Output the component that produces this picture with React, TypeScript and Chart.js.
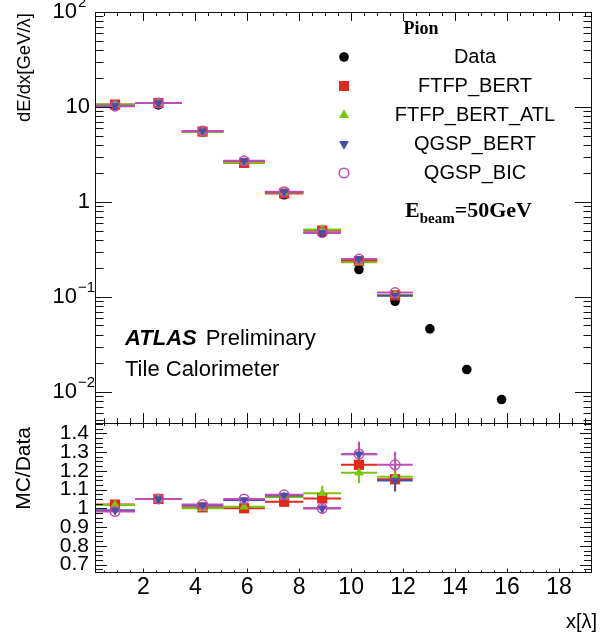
import React, { useEffect, useRef } from "react";
import { Chart, registerables } from "chart.js";
Chart.register(...registerables);

const FONT = "'Liberation Sans', Arial, Helvetica, sans-serif";
const SERIF = "'Liberation Serif', 'Times New Roman', serif";

const xMin = 0.14;
const xMax = 19.27;
const topYMin = 0.0047;
const topYMax = 100;
const ratioYMin = 0.655;
const ratioYMax = 1.455;

// bins (x in lambda)
const binLow = [0.14, 1.68, 3.48, 5.08, 6.68, 8.16, 9.61, 11.0];
const binHigh = [1.68, 3.48, 5.08, 6.68, 8.16, 9.61, 11.0, 12.37];
const binCenter = [0.91, 2.58, 4.28, 5.88, 7.42, 8.885, 10.3, 11.69];

// Data
const dataX = [0.91, 2.58, 4.28, 5.88, 7.42, 8.885, 10.3, 11.69, 13.03, 14.45, 15.79];
const dataY = [10.4, 10.5, 5.47, 2.58, 1.19, 0.475, 0.194, 0.09, 0.046, 0.0172, 0.0083];

// MC, top panel
const ftfpBertTop = [10.6, 11.0, 5.5, 2.58, 1.23, 0.5, 0.239, 0.104];
const ftfpBertAtlTop = [10.6, 11.0, 5.47, 2.6, 1.26, 0.513, 0.231, 0.105];
const qgspBertTop = [10.3, 11.0, 5.55, 2.7, 1.27, 0.475, 0.25, 0.103];
const qgspBicTop = [10.2, 11.0, 5.58, 2.71, 1.28, 0.475, 0.25, 0.111];

// MC/Data ratio
const ftfpBertRatio = [1.02, 1.05, 1.005, 1.0, 1.035, 1.053, 1.232, 1.155];
const ftfpBertAtlRatio = [1.018, 1.05, 1.0, 1.008, 1.06, 1.08, 1.19, 1.169];
const qgspBertRatio = [0.99, 1.05, 1.015, 1.045, 1.068, 1.0, 1.288, 1.148];
const qgspBicRatio = [0.983, 1.05, 1.02, 1.05, 1.072, 1.0, 1.29, 1.232];

const ftfpBertErr = [0.01, 0.01, 0.01, 0.01, 0.015, 0.03, 0.06, 0.06];
const ftfpBertAtlErr = [0.01, 0.01, 0.01, 0.01, 0.015, 0.04, 0.055, 0.06];
const qgspBertErr = [0.01, 0.01, 0.01, 0.01, 0.015, 0.03, 0.06, 0.058];
const qgspBicErr = [0.01, 0.01, 0.01, 0.01, 0.015, 0.03, 0.065, 0.07];

// ticks
const xTickValues = [2, 4, 6, 8, 10, 12, 14, 16, 18];
const ratioTickValues = [0.7, 0.8, 0.9, 1.0, 1.1, 1.2, 1.3, 1.4];
const ratioTickLabels = ["0.7", "0.8", "0.9", "1", "1.1", "1.2", "1.3", "1.4"];
const logTickExponents = [-2, -1, 0, 1, 2];

const seriesNames = ["Data", "FTFP_BERT", "FTFP_BERT_ATL", "QGSP_BERT", "QGSP_BIC"];
const RED = "#e2271d";
const GREEN = "#7ac80c";
const BLUE = "#4650a6";
const MAGENTA = "#c04db3";

function hSegments(values: number[]) {
  const pts: any[] = [];
  values.forEach((v, i) => {
    pts.push({ x: binLow[i], y: v }, { x: binHigh[i], y: v }, { x: binHigh[i], y: null });
  });
  return pts;
}
function vSegments(values: number[], errs: number[]) {
  const pts: any[] = [];
  values.forEach((v, i) => {
    pts.push({ x: binCenter[i], y: v - errs[i] }, { x: binCenter[i], y: v + errs[i] }, { x: binCenter[i], y: null });
  });
  return pts;
}
function points(values: number[], xs: number[] = binCenter) {
  return values.map((v, i) => ({ x: xs[i], y: v }));
}

function lineDs(data: any[], color: string, order: number) {
  return {
    type: "scatter" as const,
    data,
    showLine: true,
    spanGaps: false,
    borderColor: color,
    borderWidth: 2,
    pointRadius: 0,
    order,
  };
}

function markerSets(vals: number[][]) {
  return [
    {
      label: "QGSP_BIC",
      data: points(vals[3]),
      pointStyle: "circle",
      pointRadius: 4.8,
      backgroundColor: "rgba(0,0,0,0)",
      borderColor: MAGENTA,
      borderWidth: 1.5,
      order: 1,
    },
    {
      label: "QGSP_BERT",
      data: points(vals[2]),
      pointStyle: "triangle",
      pointRotation: 180,
      pointRadius: 5.5,
      backgroundColor: BLUE,
      borderColor: BLUE,
      borderWidth: 0,
      order: 2,
    },
    {
      label: "FTFP_BERT_ATL",
      data: points(vals[1]),
      pointStyle: "triangle",
      pointRadius: 5.5,
      backgroundColor: GREEN,
      borderColor: GREEN,
      borderWidth: 0,
      order: 3,
    },
    {
      label: "FTFP_BERT",
      data: points(vals[0]),
      pointStyle: "rect",
      pointRadius: 7.2,
      backgroundColor: RED,
      borderColor: RED,
      borderWidth: 0,
      order: 4,
    },
  ];
}

function drawLegendMarker(ctx: CanvasRenderingContext2D, kind: number, x: number, y: number) {
  ctx.save();
  if (kind === 0) {
    ctx.fillStyle = "#000";
    ctx.beginPath();
    ctx.arc(x, y, 4.8, 0, Math.PI * 2);
    ctx.fill();
  } else if (kind === 1) {
    ctx.fillStyle = RED;
    ctx.fillRect(x - 5, y - 5, 10, 10);
  } else if (kind === 2 || kind === 3) {
    ctx.fillStyle = kind === 2 ? GREEN : BLUE;
    const r = 5.8;
    const s = kind === 2 ? 1 : -1;
    ctx.beginPath();
    ctx.moveTo(x, y - s * r);
    ctx.lineTo(x + r * 0.866, y + s * r * 0.5);
    ctx.lineTo(x - r * 0.866, y + s * r * 0.5);
    ctx.closePath();
    ctx.fill();
  } else {
    ctx.strokeStyle = MAGENTA;
    ctx.lineWidth = 1.5;
    ctx.beginPath();
    ctx.arc(x, y, 4.8, 0, Math.PI * 2);
    ctx.stroke();
  }
  ctx.restore();
}

const topDecor = {
  id: "topDecor",
  afterDraw(chart: any) {
    const { ctx, chartArea: a } = chart;
    const xs = chart.scales.x;
    const ys = chart.scales.y;
    ctx.save();
    ctx.strokeStyle = "#111";
    ctx.lineWidth = 1;
    ctx.beginPath();
    for (let i = 0; i <= 40; i++) {
      const v = i * 0.5;
      if (v < xs.min || v > xs.max) continue;
      const px = Math.round(xs.getPixelForValue(v)) + 0.5;
      const major = i % 4 === 0;
      ctx.moveTo(px, a.bottom);
      ctx.lineTo(px, a.bottom - (major ? 10 : 5));
      ctx.moveTo(px, a.top);
      ctx.lineTo(px, a.top + (major ? 9 : 4));
    }
    for (let e = -3; e <= 2; e++) {
      for (let m = 1; m <= 9; m++) {
        const v = m * Math.pow(10, e);
        if (v < ys.min || v > ys.max) continue;
        const py = Math.round(ys.getPixelForValue(v)) + 0.5;
        const len = m === 1 ? 17 : 8.5;
        ctx.moveTo(a.left, py);
        ctx.lineTo(a.left + len, py);
        ctx.moveTo(a.right, py);
        ctx.lineTo(a.right - len, py);
      }
    }
    ctx.stroke();
    ctx.strokeRect(a.left + 0.5, a.top + 0.5, a.right - a.left - 1, a.bottom - a.top);

    // y tick labels (powers of ten)
    ctx.fillStyle = "#000";
    ctx.textBaseline = "middle";
    for (const e of logTickExponents) {
      const py = ys.getPixelForValue(Math.pow(10, e));
      ctx.font = `22px ${FONT}`;
      ctx.textAlign = "right";
      if (e === 0 || e === 1) {
        ctx.fillText(e === 0 ? "1" : "10", 90, py);
      } else {
        ctx.fillText("10", 77, py);
        ctx.font = `15px ${FONT}`;
        ctx.textAlign = "left";
        ctx.fillText(e < 0 ? "\u2212" + String(-e) : String(e), 78, py - 9);
      }
    }

    // y title
    ctx.save();
    ctx.translate(30, 13);
    ctx.rotate(-Math.PI / 2);
    ctx.font = `18.5px ${FONT}`;
    ctx.textAlign = "right";
    ctx.textBaseline = "alphabetic";
    ctx.fillText("dE/dx[GeV/\u03bb]", 0, 0);
    ctx.restore();

    // legend
    ctx.font = `bold 18px ${SERIF}`;
    ctx.textAlign = "center";
    ctx.textBaseline = "alphabetic";
    ctx.fillText("Pion", 421, 34);
    const rows = [57, 86, 115, 144, 173];
    ctx.font = `20px ${FONT}`;
    ctx.textBaseline = "middle";
    seriesNames.forEach((name, i) => {
      drawLegendMarker(ctx, i, 344, rows[i]);
      ctx.fillStyle = "#000";
      ctx.textAlign = "center";
      ctx.fillText(name, 475, rows[i]);
    });

    // E_beam
    ctx.textBaseline = "alphabetic";
    ctx.textAlign = "left";
    let x = 405;
    ctx.font = `bold 22px ${SERIF}`;
    ctx.fillText("E", x, 217);
    x += ctx.measureText("E").width;
    ctx.font = `bold 15px ${SERIF}`;
    ctx.fillText("beam", x, 223);
    x += ctx.measureText("beam").width;
    ctx.font = `bold 22px ${SERIF}`;
    ctx.fillText("=50GeV", x, 217);

    // ATLAS label
    x = 125;
    ctx.font = `italic bold 22px ${FONT}`;
    ctx.fillText("ATLAS", x, 345);
    x += ctx.measureText("ATLAS").width + 9;
    ctx.font = `22px ${FONT}`;
    ctx.fillText("Preliminary", x, 345);
    ctx.fillText("Tile Calorimeter", 125, 376);
    ctx.restore();
  },
};

const ratioDecor = {
  id: "ratioDecor",
  afterDraw(chart: any) {
    const { ctx, chartArea: a } = chart;
    const xs = chart.scales.x;
    const ys = chart.scales.y;
    ctx.save();
    ctx.strokeStyle = "#111";
    ctx.lineWidth = 1;
    ctx.beginPath();
    for (let i = 0; i <= 40; i++) {
      const v = i * 0.5;
      if (v < xs.min || v > xs.max) continue;
      const px = Math.round(xs.getPixelForValue(v)) + 0.5;
      const major = i % 4 === 0;
      ctx.moveTo(px, a.bottom);
      ctx.lineTo(px, a.bottom - (major ? 4.5 : 2.5));
      ctx.moveTo(px, a.top);
      ctx.lineTo(px, a.top + (major ? 5 : 3));
    }
    for (let i = 26; i <= 58; i++) {
      const v = i * 0.025;
      if (v < ys.min || v > ys.max) continue;
      const py = Math.round(ys.getPixelForValue(v)) + 0.5;
      const len = i % 4 === 0 ? 12 : 8;
      ctx.moveTo(a.left, py);
      ctx.lineTo(a.left + len, py);
      ctx.moveTo(a.right, py);
      ctx.lineTo(a.right - len, py);
    }
    ctx.stroke();
    ctx.strokeRect(a.left + 0.5, a.top + 0.5, a.right - a.left - 1, a.bottom - a.top - 1);

    ctx.fillStyle = "#000";
    ctx.save();
    ctx.translate(30, 427);
    ctx.rotate(-Math.PI / 2);
    ctx.font = `21px ${FONT}`;
    ctx.textAlign = "right";
    ctx.textBaseline = "alphabetic";
    ctx.fillText("MC/Data", 0, 0);
    ctx.restore();

    ctx.font = `20px ${FONT}`;
    ctx.textAlign = "right";
    ctx.textBaseline = "alphabetic";
    ctx.fillText("x[\u03bb]", 597, 628);
    ctx.restore();
  },
};

const baseOptions = {
  responsive: false,
  animation: false as const,
  devicePixelRatio: 1,
  events: [] as any[],
  plugins: { legend: { display: false }, tooltip: { enabled: false } },
};

export default function App() {
  const topRef = useRef<HTMLCanvasElement>(null);
  const botRef = useRef<HTMLCanvasElement>(null);

  useEffect(() => {
    const topVals = [ftfpBertTop, ftfpBertAtlTop, qgspBertTop, qgspBicTop];
    const topChart = new Chart(topRef.current as HTMLCanvasElement, {
      type: "scatter",
      data: {
        datasets: [
          ...markerSets(topVals),
          {
            label: "Data",
            data: points(dataY, dataX),
            pointStyle: "circle",
            pointRadius: 4.8,
            backgroundColor: "#000",
            borderColor: "#000",
            borderWidth: 0,
            order: 5,
          },
          lineDs(hSegments(qgspBicTop), MAGENTA, 6),
          lineDs(hSegments(qgspBertTop), BLUE, 7),
          lineDs(hSegments(ftfpBertAtlTop), GREEN, 8),
          lineDs(hSegments(ftfpBertTop), RED, 9),
        ] as any,
      },
      options: {
        ...baseOptions,
        layout: { padding: { left: 0, right: 10, top: 12, bottom: 214 } },
        scales: {
          x: { type: "linear", min: xMin, max: xMax, display: false },
          y: {
            type: "logarithmic",
            min: topYMin,
            max: topYMax,
            ticks: { display: false },
            grid: { display: false, drawTicks: false },
            border: { display: false },
            afterFit: (s: any) => {
              s.width = 95;
            },
          },
        },
      } as any,
      plugins: [topDecor],
    });

    const ratioChart = new Chart(botRef.current as HTMLCanvasElement, {
      type: "scatter",
      data: {
        datasets: [
          ...markerSets([ftfpBertRatio, ftfpBertAtlRatio, qgspBertRatio, qgspBicRatio]),
          lineDs(hSegments(qgspBicRatio), MAGENTA, 6),
          lineDs(vSegments(qgspBicRatio, qgspBicErr), MAGENTA, 6),
          lineDs(hSegments(qgspBertRatio), BLUE, 7),
          lineDs(vSegments(qgspBertRatio, qgspBertErr), BLUE, 7),
          lineDs(hSegments(ftfpBertAtlRatio), GREEN, 8),
          lineDs(vSegments(ftfpBertAtlRatio, ftfpBertAtlErr), GREEN, 8),
          lineDs(hSegments(ftfpBertRatio), RED, 9),
          lineDs(vSegments(ftfpBertRatio, ftfpBertErr), RED, 9),
        ] as any,
      },
      options: {
        ...baseOptions,
        layout: { padding: { left: 0, right: 10, top: 423, bottom: 0 } },
        scales: {
          x: {
            type: "linear",
            min: xMin,
            max: xMax,
            afterBuildTicks: (s: any) => {
              s.ticks = xTickValues.map((v) => ({ value: v }));
            },
            ticks: {
              font: { family: FONT, size: 23 },
              color: "#000",
              padding: 1,
              autoSkip: false,
              maxRotation: 0,
              callback: (v: any) => String(v),
            },
            grid: { display: false, drawTicks: false },
            border: { display: false },
            afterFit: (s: any) => {
              s.height = 64;
            },
          },
          y: {
            type: "linear",
            min: ratioYMin,
            max: ratioYMax,
            afterBuildTicks: (s: any) => {
              s.ticks = ratioTickValues.map((v) => ({ value: v }));
            },
            ticks: {
              font: { family: FONT, size: 21, lineHeight: 1 },
              color: "#000",
              padding: 6,
              autoSkip: false,
              callback: (_v: any, i: number) => ratioTickLabels[i],
            },
            grid: { display: false, drawTicks: false },
            border: { display: false },
            afterFit: (s: any) => {
              s.width = 95;
            },
          },
        },
      } as any,
      plugins: [ratioDecor],
    });

    return () => {
      topChart.destroy();
      ratioChart.destroy();
    };
  }, []);

  const cs: React.CSSProperties = { position: "absolute", left: 0, top: 0 };
  return (
    <div style={{ position: "absolute", left: 0, top: 0, width: 602, height: 637, background: "#fff" }}>
      <canvas ref={topRef} width={602} height={637} style={cs} />
      <canvas ref={botRef} width={602} height={637} style={cs} />
    </div>
  );
}
